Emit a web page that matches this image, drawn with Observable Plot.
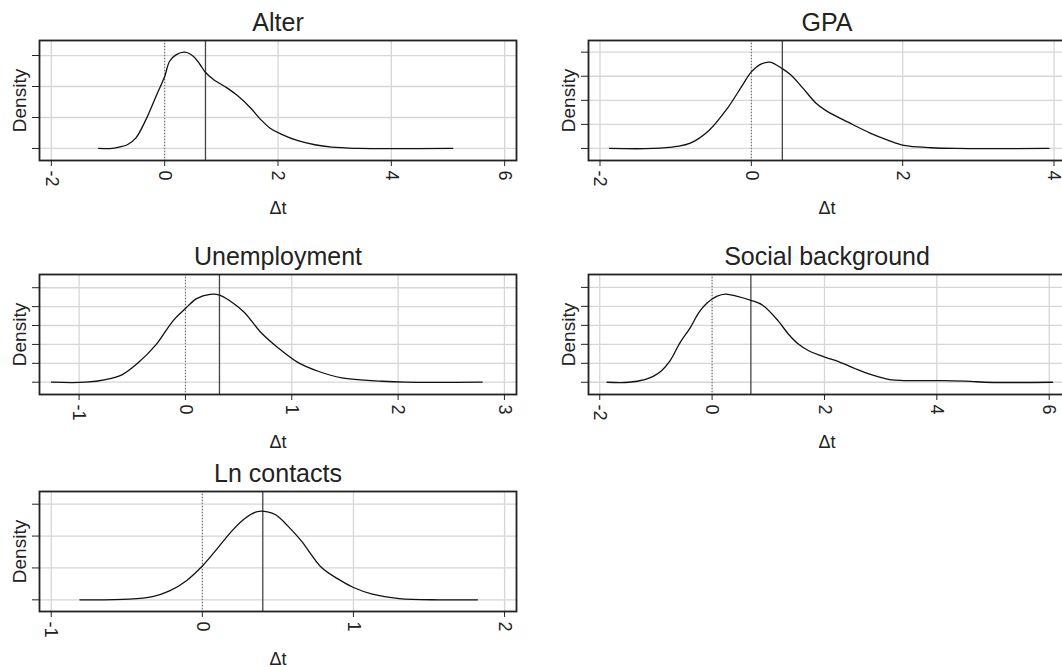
<!DOCTYPE html>
<html><head><meta charset="utf-8">
<script src="https://cdn.jsdelivr.net/npm/d3@7"></script>
<script src="https://cdn.jsdelivr.net/npm/@observablehq/plot@0.6"></script>
<style>
html,body{margin:0;padding:0;background:#fff;overflow:hidden;}
#chart{position:relative;width:1062px;height:667px;overflow:hidden;background:#fff;}
#chart svg{position:absolute;}
</style></head><body><div id="chart"></div>
<script>
// ---- data ----
const titles = ["Alter", "GPA", "Unemployment", "Social background", "Ln contacts"];
const xLabel = "Δt";
const yLabel = "Density";

const alterX = [-1.165,-0.927,-0.808,-0.659,-0.51,-0.331,-0.152,0,0.087,0.206,0.355,0.504,0.623,0.718,0.861,1.1,1.279,1.517,1.696,1.875,2.054,2.352,2.65,2.948,3.187,3.425,5.082];
const alterY = [0,0,0.009,0.024,0.067,0.186,0.337,0.465,0.563,0.606,0.622,0.596,0.542,0.492,0.445,0.391,0.343,0.261,0.186,0.127,0.093,0.05,0.024,0.009,0.004,0,0];

const gpaX = [-1.874,-1.30,-0.987,-0.807,-0.56,-0.314,-0.112,0,0.135,0.247,0.413,0.516,0.673,0.852,0.987,1.345,1.57,1.794,2.018,2.377,2.69,3.933];
const gpaY = [0,0,0.017,0.044,0.15,0.336,0.531,0.636,0.703,0.717,0.661,0.614,0.508,0.378,0.314,0.197,0.128,0.072,0.025,0.006,0,0];

const unempX = [-1.26,-0.94,-0.75,-0.593,-0.45,-0.276,-0.117,0,0.105,0.232,0.32,0.42,0.55,0.71,0.867,1.057,1.248,1.47,1.85,2.07,2.79];
const unempY = [0,0,0.028,0.081,0.2,0.397,0.65,0.78,0.885,0.93,0.923,0.86,0.744,0.526,0.368,0.21,0.116,0.046,0.01,0,0];

const socialX = [-1.87,-1.48,-1.2,-1.05,-0.9,-0.75,-0.57,-0.39,-0.24,-0.09,0.08,0.24,0.45,0.69,0.9,1.18,1.36,1.54,1.72,2.02,2.26,2.56,2.86,3.16,3.41,4.13,4.61,4.85,6.06];
const socialY = [0,0,0.014,0.031,0.061,0.113,0.209,0.287,0.366,0.418,0.453,0.465,0.453,0.432,0.406,0.322,0.253,0.2,0.166,0.131,0.108,0.07,0.037,0.014,0.009,0.009,0.005,0,0];

const lnX = [-0.81,-0.485,-0.33,-0.217,-0.105,0,0.096,0.186,0.275,0.364,0.431,0.488,0.565,0.655,0.789,0.9,1.0,1.125,1.303,1.57,1.82];
const lnY = [0,0.01,0.05,0.14,0.3,0.53,0.795,1.055,1.265,1.384,1.38,1.33,1.16,0.925,0.506,0.324,0.193,0.089,0.02,0,0];

const meanLines = [0.72, 0.41, 0.32, 0.69, 0.40];
const xTicks = [[-2,0,2,4,6],[-2,0,2,4],[-1,0,1,2,3],[-2,0,2,4,6],[-1,0,1,2]];
const yTicks = [[0,0.2,0.4,0.6],[0,0.2,0.4,0.6,0.8],[0,0.2,0.4,0.6,0.8,1],[0,0.1,0.2,0.3,0.4,0.5],[0,0.5,1,1.5]];
const seriesX = [alterX, gpaX, unempX, socialX, lnX];
const seriesY = [alterY, gpaY, unempY, socialY, lnY];

// ---- layout (positions / scale ranges) ----
const layout = [
  {left: 0,   top: 0,   ml: 39, xDomain: [-2.209, 6.209],  yDomain: [-0.0777, 0.697]},
  {left: 548, top: 0,   ml: 40, xDomain: [-2.152, 4.152],  yDomain: [-0.1, 0.897]},
  {left: 0,   top: 234, ml: 39, xDomain: [-1.3725, 3.1135], yDomain: [-0.13, 1.14]},
  {left: 548, top: 234, ml: 40, xDomain: [-2.2, 6.29],     yDomain: [-0.0645, 0.568]},
  {left: 0,   top: 451, ml: 39, xDomain: [-1.0776, 2.079], yDomain: [-0.183, 1.699]}
];
const FONT = "'Liberation Sans', Arial, Helvetica, sans-serif";
const container = document.getElementById("chart");

titles.forEach((title, i) => {
  const L = layout[i];
  const data = seriesX[i].map((x, j) => ({x, y: seriesY[i][j]}));
  const frameW = 477;
  const svg = Plot.plot({
    width: L.ml + frameW + 14,
    height: 218,
    marginLeft: L.ml, marginRight: 14, marginTop: 40, marginBottom: 58,
    style: {fontFamily: FONT, color: "#222", background: "transparent"},
    x: {domain: L.xDomain, axis: null},
    y: {domain: L.yDomain, axis: null},
    marks: [
      Plot.gridX(xTicks[i], {stroke: "#d6d6d6", strokeOpacity: 1, strokeWidth: 1.3}),
      Plot.gridY(yTicks[i], {stroke: "#d6d6d6", strokeOpacity: 1, strokeWidth: 1.3}),
      Plot.ruleX([0], {stroke: "#666", strokeWidth: 1, strokeDasharray: "1,2"}),
      Plot.ruleX([meanLines[i]], {stroke: "#444", strokeWidth: 1.3}),
      Plot.line(data, {x: "x", y: "y", stroke: "#111", strokeWidth: 1.3, curve: "catmull-rom"}),
      Plot.frame({stroke: "#222", strokeWidth: 1.8}),
      Plot.axisX(xTicks[i], {tickSize: 6, tickFormat: () => "", label: null}),
      Plot.text(xTicks[i], {x: d => d, text: d => String(d), frameAnchor: "bottom", rotate: 90, textAnchor: "start", lineAnchor: "middle", dy: 10, fontSize: 18, fill: "#222"}),
      Plot.axisY(yTicks[i], {tickSize: 7, tickFormat: () => "", label: null}),
      Plot.text([title], {frameAnchor: "top", lineAnchor: "bottom", dy: -10, fontSize: 25}),
      Plot.text([yLabel], {frameAnchor: "left", textAnchor: "middle", rotate: -90, dx: -20, fontSize: 19}),
      Plot.text([xLabel], {frameAnchor: "bottom", lineAnchor: "bottom", dy: 53, fontSize: 18})
    ]
  });
  svg.style.left = L.left + "px";
  svg.style.top = L.top + "px";
  container.appendChild(svg);
});
</script>
</body></html>
